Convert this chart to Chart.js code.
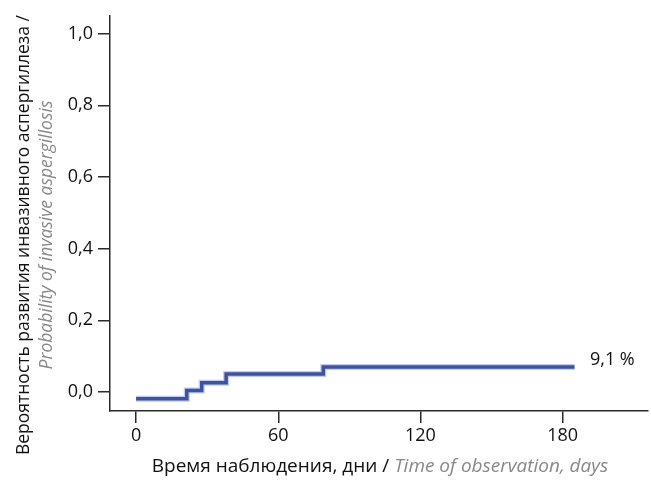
<!DOCTYPE html>
<html>
<head>
<meta charset="utf-8">
<script src="https://cdn.jsdelivr.net/npm/chart.js@4"></script>
<style>
  html,body{margin:0;padding:0;background:#fff;}
  #wrap{position:relative;width:651px;height:481px;}
</style>
</head>
<body>
<div id="wrap"><canvas id="c" width="651" height="481"></canvas></div>
<script>
// Kaplan-Meier style cumulative curve (days vs probability)
const days  = [0, 21.4, 27.7, 38, 79, 185];
const prob  = [-0.019, 0.004, 0.026, 0.05, 0.07, 0.07];
const xTicks = [0, 60, 120, 180];
const yTicks = [0, 0.2, 0.4, 0.6, 0.8, 1.0];
const endLabel = '9,1 %';
const endLabelAt = [191.5, 0.089];

const FONT = '"Open Sans", "Noto Sans", sans-serif';
const AX = '#2b2b2b';
const TS = 18;

const pts = days.map((d,i)=>({x:d, y:prob[i]}));

const titles = {
  id:'titles',
  afterDraw(chart){
    const ctx = chart.ctx;
    const xs = chart.scales.x, ys = chart.scales.y;
    ctx.save();
    // end label
    ctx.font = TS + 'px ' + FONT;
    ctx.fillStyle = '#111';
    ctx.textBaseline = 'middle';
    ctx.textAlign = 'left';
    ctx.fillText(endLabel, xs.getPixelForValue(endLabelAt[0]), ys.getPixelForValue(endLabelAt[1]));

    // x title, mixed styles
    const a = 'Время наблюдения, дни / ';
    const b = 'Time of observation, days';
    const xf = 19;
    ctx.font = xf + 'px ' + FONT;
    const wa = ctx.measureText(a).width;
    ctx.font = 'italic ' + xf + 'px ' + FONT;
    const wb = ctx.measureText(b).width;
    let x0 = 380 - (wa+wb)/2;
    ctx.font = xf + 'px ' + FONT; ctx.fillStyle = '#111';
    ctx.fillText(a, x0, 467);
    ctx.font = 'italic ' + xf + 'px ' + FONT; ctx.fillStyle = '#888';
    ctx.fillText(b, x0+wa, 467);

    // y title, two rotated lines
    const yf = 17.5;
    ctx.translate(0, 235);
    ctx.rotate(-Math.PI/2);
    ctx.textAlign = 'center';
    ctx.font = yf + 'px ' + FONT; ctx.fillStyle = '#111';
    ctx.fillText('Вероятность развития инвазивного аспергиллеза /', 0, 24);
    ctx.font = 'italic ' + yf + 'px ' + FONT; ctx.fillStyle = '#888';
    ctx.fillText('Probability of invasive aspergillosis', 0, 47);
    ctx.restore();
  }
};

new Chart(document.getElementById('c'), {
  type:'line',
  data:{ datasets:[
    { data: pts, stepped:'before', borderColor:'#3b53a6', borderWidth:3.5, pointRadius:0, fill:false, order:1 },
    { data: pts, stepped:'before', borderColor:'rgba(120,140,210,0.45)', borderWidth:6, pointRadius:0, fill:false, order:2 }
  ]},
  options:{
    responsive:false, animation:false,
    layout:{ padding:{ left:0, right:3, top:15, bottom:0 } },
    plugins:{ legend:{display:false}, tooltip:{enabled:false} },
    scales:{
      x:{
        type:'linear', min:-11, max:216,
        afterBuildTicks: s => { s.ticks = xTicks.map(v=>({value:v})); },
        afterFit: s => { s.height = 70; },
        grid:{ drawOnChartArea:false, drawTicks:true, tickLength:12, color:AX, lineWidth:1.5 },
        border:{ display:true, color:AX, width:1.5 },
        ticks:{ color:'#111', font:{family:FONT, size:TS}, padding:2, maxRotation:0 }
      },
      y:{
        type:'linear', min:-0.053, max:1.05,
        afterBuildTicks: s => { s.ticks = yTicks.map(v=>({value:v})); },
        afterFit: s => { s.width = 110; },
        grid:{ drawOnChartArea:false, drawTicks:true, tickLength:12, color:AX, lineWidth:1.5 },
        border:{ display:true, color:AX, width:1.5 },
        ticks:{ color:'#111', font:{family:FONT, size:TS}, padding:5, callback: v => v.toFixed(1).replace('.', ',') }
      }
    }
  },
  plugins:[titles]
});
</script>
</body>
</html>
